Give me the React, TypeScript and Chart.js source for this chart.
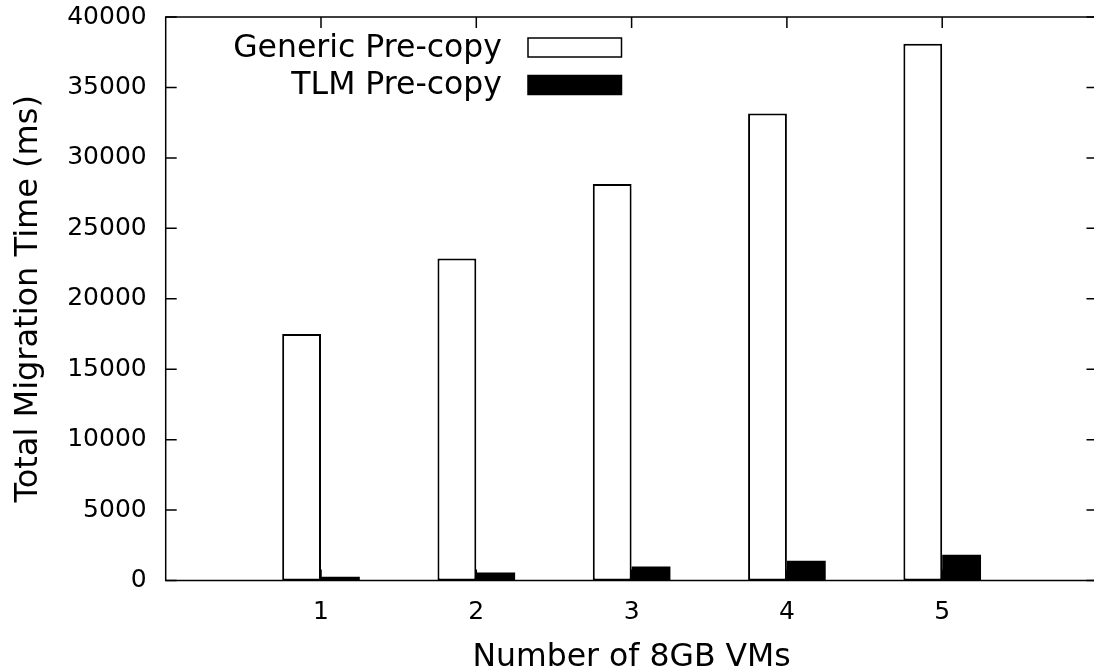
import React, { useEffect, useRef } from 'react';
import { Chart, registerables } from 'chart.js';

Chart.register(...registerables);

const categories = ['', '1', '2', '3', '4', '5', ''];
const seriesLabels = ['Generic Pre-copy', 'TLM Pre-copy'];
const genericValues = [null, 17500, 22850, 28150, 33150, 38100, null];
const tlmValues = [null, 270, 570, 1000, 1400, 1830, null];
const yMin = 0;
const yMax = 40000;
const yStep = 5000;
const xTitle = 'Number of 8GB VMs';
const yTitle = 'Total Migration Time (ms)';

const FONT = '"DejaVu Sans", "Liberation Sans", sans-serif';
const W = 1100;
const H = 672;

const zeroPad = (s: any) => {
  s.paddingTop = 0;
  s.paddingBottom = 0;
  s.paddingLeft = 0;
  s.paddingRight = 0;
};

const framePlugin = {
  id: 'gnuFrame',
  afterDatasetsDraw(chart: any) {
    const { ctx, chartArea: a, scales } = chart;
    ctx.save();
    ctx.strokeStyle = '#000';
    ctx.lineWidth = 1.5;
    ctx.strokeRect(a.left, a.top, a.right - a.left, a.bottom - a.top);
    const tl = 11;
    ctx.beginPath();
    for (const t of scales.y.ticks) {
      const y = scales.y.getPixelForValue(t.value);
      ctx.moveTo(a.left, y);
      ctx.lineTo(a.left + tl, y);
      ctx.moveTo(a.right, y);
      ctx.lineTo(a.right - tl, y);
    }
    categories.forEach((c, i) => {
      if (!c) return;
      const x = scales.x.getPixelForValue(i);
      ctx.moveTo(x, a.top);
      ctx.lineTo(x, a.top + tl);
      ctx.moveTo(x, a.bottom);
      ctx.lineTo(x, a.bottom - tl);
    });
    ctx.stroke();

    // legend
    ctx.font = `31.5px ${FONT}`;
    ctx.textAlign = 'right';
    ctx.textBaseline = 'middle';
    const textRight = 502;
    const boxL = 528;
    const boxW = 93.5;
    const boxH = 19;
    const rows = [47.5, 85];
    chart.data.datasets.forEach((ds: any, i: number) => {
      const cy = rows[i];
      ctx.fillStyle = '#000';
      ctx.fillText(ds.label, textRight, cy + 1);
      ctx.fillStyle = ds.backgroundColor;
      ctx.fillRect(boxL, cy - boxH / 2, boxW, boxH);
      ctx.lineWidth = 1.5;
      ctx.strokeStyle = '#000';
      ctx.strokeRect(boxL, cy - boxH / 2, boxW, boxH);
    });
    ctx.restore();
  },
};

export default function App() {
  const ref = useRef<HTMLCanvasElement | null>(null);
  useEffect(() => {
    if (!ref.current) return;
    const chart = new Chart(ref.current, {
      type: 'bar',
      data: {
        labels: categories,
        datasets: [
          {
            label: seriesLabels[0],
            data: genericValues as any,
            backgroundColor: '#ffffff',
            borderColor: '#000000',
            borderWidth: 2,
            borderSkipped: false,
          },
          {
            label: seriesLabels[1],
            data: tlmValues as any,
            backgroundColor: '#000000',
            borderColor: '#000000',
            borderWidth: 0,
          },
        ],
      },
      options: {
        animation: false,
        responsive: false,
        devicePixelRatio: 1,
        datasets: { bar: { categoryPercentage: 0.5, barPercentage: 1 } },
        layout: { padding: { top: 17, right: 2.5, bottom: 0, left: 0 } },
        plugins: { legend: { display: false }, tooltip: { enabled: false } },
        scales: {
          x: {
            type: 'category',
            offset: false,
            grid: { display: false, drawTicks: false },
            border: { display: false },
            ticks: {
              autoSkip: false,
              maxRotation: 0,
              padding: 17,
              color: '#000',
              font: { family: FONT, size: 25 },
            },
            title: {
              display: true,
              text: xTitle,
              color: '#000',
              font: { family: FONT, size: 31.5 },
              padding: { top: 0, bottom: -5 },
            },
            afterFit: (s: any) => {
              s.height = 91.5;
              zeroPad(s);
            },
          },
          y: {
            min: yMin,
            max: yMax,
            grid: { display: false, drawTicks: false },
            border: { display: false },
            ticks: {
              stepSize: yStep,
              padding: 19,
              color: '#000',
              font: { family: FONT, size: 25 },
              callback: (v: any) => String(v),
            },
            title: {
              display: true,
              text: yTitle,
              color: '#000',
              font: { family: FONT, size: 32 },
              padding: { top: 9, bottom: 0 },
            },
            afterFit: (s: any) => {
              s.width = 165.7;
              zeroPad(s);
            },
          },
        },
      },
      plugins: [framePlugin],
    });
    return () => chart.destroy();
  }, []);
  return (
    <div
      style={{
        position: 'absolute',
        left: 0,
        top: 0,
        width: 1094,
        height: 672,
        overflow: 'hidden',
        background: '#fff',
      }}
    >
      <canvas ref={ref} width={W} height={H} style={{ width: W, height: H, display: 'block' }} />
    </div>
  );
}
